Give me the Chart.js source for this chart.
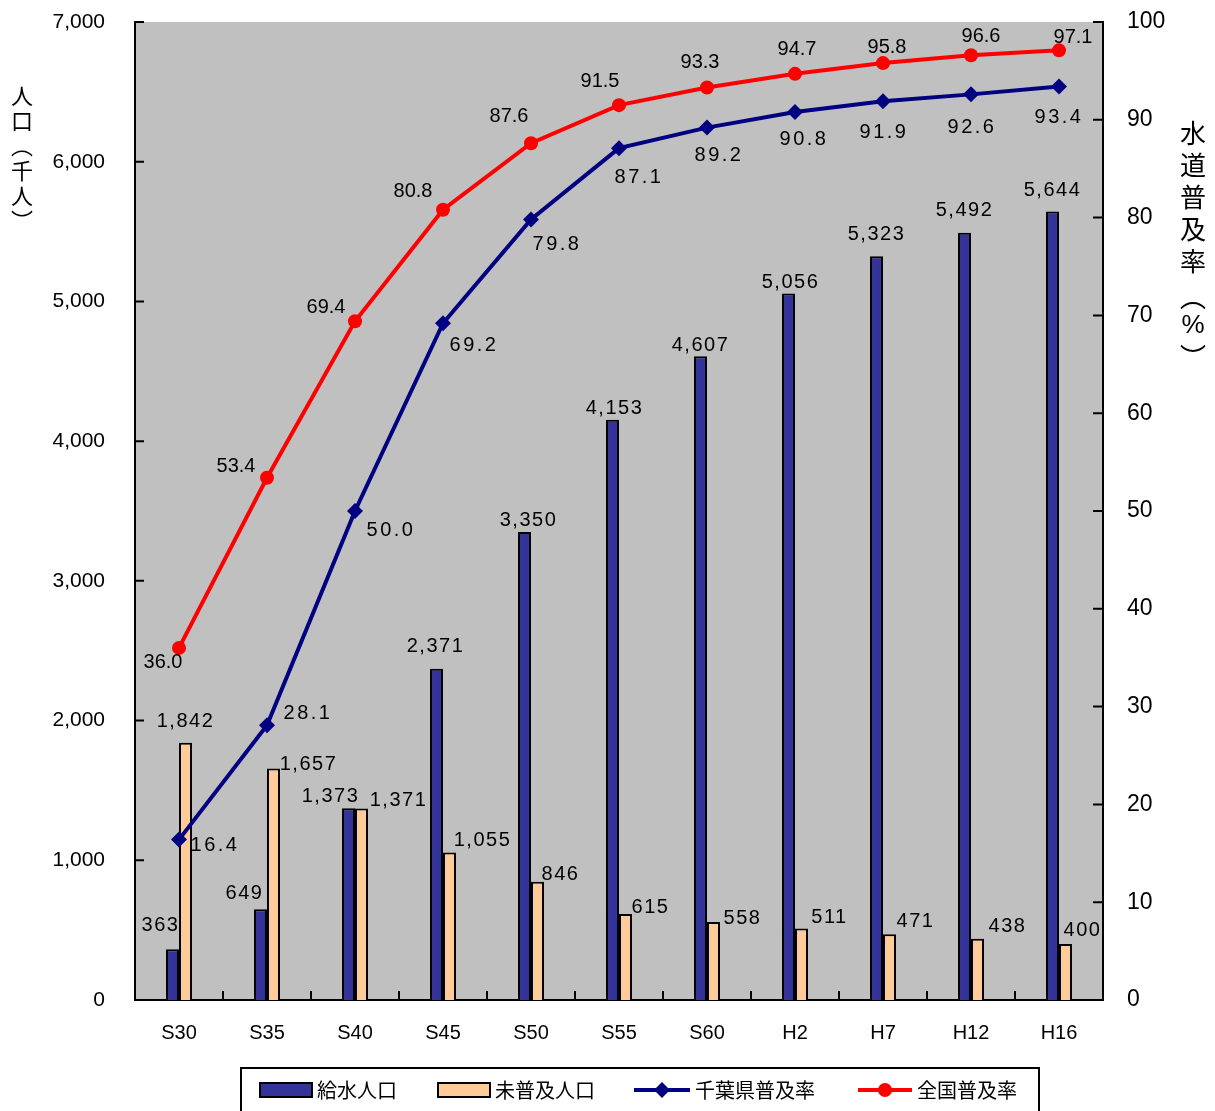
<!DOCTYPE html>
<html>
<head>
<meta charset="utf-8">
<script src="https://cdn.jsdelivr.net/npm/chart.js@4.4.1/dist/chart.umd.min.js"></script>
<style>
  body { margin: 0; background: #fff; }
  #wrap { width: 1215px; height: 1111px; }
</style>
</head>
<body>
<div id="wrap"><canvas id="chartWater" width="1215" height="1111"></canvas></div>
<script>
/* ═══════════════════════════════════════════
   DATA
═══════════════════════════════════════════ */
const years = ['S30', 'S35', 'S40', 'S45', 'S50', 'S55', 'S60', 'H2', 'H7', 'H12', 'H16'];
const kyusuiPop = [363, 649, 1373, 2371, 3350, 4153, 4607, 5056, 5323, 5492, 5644];    // 給水人口
const mifukyuPop = [1842, 1657, 1371, 1055, 846, 615, 558, 511, 471, 438, 400];         // 未普及人口
const chibaRate = [16.4, 28.1, 50.0, 69.2, 79.8, 87.1, 89.2, 90.8, 91.9, 92.6, 93.4];  // 千葉県普及率
const zenkokuRate = [36.0, 53.4, 69.4, 80.8, 87.6, 91.5, 93.3, 94.7, 95.8, 96.6, 97.1]; // 全国普及率
const popTicks = [0, 1000, 2000, 3000, 4000, 5000, 6000, 7000];
const rateTicks = [0, 10, 20, 30, 40, 50, 60, 70, 80, 90, 100];

/* label nudges (px from the mark), one per point */
const kyusuiOffsets = [[-12,-24],[-16,-16],[-18,-12],[-1,-22],[4,-11],[2,-11],[0,-11],[2,-11],[0,-22],[0,-22],[0,-21]];
const mifukyuOffsets = [[0,-21],[35,-4],[37,-8],[33,-12],[23,-7],[25,-7],[29,-4],[28,-11],[26,-13],[30,-12],[17,-14]];
const chibaOffsets = [[36,6],[41,-12],[36,19],[31,22],[26,25],[20,29],[12,28],[9,28],[1,31],[1,33],[0,31]];
const zenkokuOffsets = [[-16,15],[-31,-11],[-29,-14],[-30,-18],[-22,-27],[-19,-24],[-7,-25],[2,-24],[4,-16],[10,-19],[14,-13]];

const NAVY_BAR = '#333399';
const PEACH = '#FFCC99';
const NAVY = '#000080';
const RED = '#FF0000';
const SANS = '"Liberation Sans", Arial, sans-serif';
const CJK = '"Noto Sans CJK JP", "Noto Sans CJK SC", sans-serif';

/* ═══════════════════════════════════════════
   PLUGINS
═══════════════════════════════════════════ */
const plotBackground = {
    id: 'plotBackground',
    beforeDraw(chart) {
        const { ctx, chartArea: a } = chart;
        ctx.save();
        ctx.fillStyle = '#fff';
        ctx.fillRect(0, 0, chart.width, chart.height);
        ctx.fillStyle = '#C0C0C0';
        ctx.fillRect(a.left, a.top, a.right - a.left, a.bottom - a.top);
        ctx.restore();
    }
};

// inward tick marks like the original spreadsheet chart
const innerTicks = {
    id: 'innerTicks',
    afterDraw(chart) {
        const { ctx, chartArea: a, scales } = chart;
        ctx.save();
        ctx.strokeStyle = '#000';
        ctx.lineWidth = 2;
        ctx.beginPath();
        popTicks.forEach(v => {
            const y = scales.y.getPixelForValue(v);
            ctx.moveTo(a.left, y); ctx.lineTo(a.left + 9, y);
        });
        rateTicks.forEach(v => {
            const y = scales.y1.getPixelForValue(v);
            ctx.moveTo(a.right - 10, y); ctx.lineTo(a.right, y);
        });
        for (let i = 0; i < years.length - 1; i++) {
            const x = (scales.x.getPixelForValue(i) + scales.x.getPixelForValue(i + 1)) / 2;
            ctx.moveTo(x, a.bottom); ctx.lineTo(x, a.bottom - 9);
        }
        ctx.stroke();
        ctx.restore();
    }
};

const valueLabels = {
    id: 'valueLabels',
    afterDatasetsDraw(chart) {
        const { ctx } = chart;
        const specs = [
            { idx: 0, offs: kyusuiOffsets, spacing: '1.5px', fmt: v => v.toLocaleString('en-US') },
            { idx: 1, offs: mifukyuOffsets, spacing: '1.5px', fmt: v => v.toLocaleString('en-US') },
            { idx: 2, offs: chibaOffsets, spacing: '2.5px', fmt: v => v.toFixed(1) },
            { idx: 3, offs: zenkokuOffsets, spacing: '0px', fmt: v => v.toFixed(1) }
        ];
        ctx.save();
        ctx.fillStyle = '#000';
        ctx.textAlign = 'center';
        ctx.textBaseline = 'middle';
        ctx.font = '20px ' + SANS;
        specs.forEach(s => {
            const meta = chart.getDatasetMeta(s.idx);
            const values = chart.data.datasets[s.idx].data;
            ctx.letterSpacing = s.spacing;
            meta.data.forEach((el, i) => {
                ctx.fillText(s.fmt(values[i]), el.x + s.offs[i][0], el.y + s.offs[i][1]);
            });
        });
        ctx.restore();
    }
};

function drawVertical(ctx, chars, x, y0, step) {
    chars.forEach((c, i) => ctx.fillText(c, x, y0 + i * step));
}

const axisTitles = {
    id: 'axisTitles',
    afterDraw(chart) {
        const { ctx } = chart;
        ctx.save();
        ctx.fillStyle = '#000';
        ctx.textAlign = 'center';
        ctx.textBaseline = 'middle';
        ctx.font = '22px ' + CJK;
        drawVertical(ctx, ['人', '口', '︵', '千', '人', '︶'], 22, 96, 25);
        ctx.font = '26px ' + CJK;
        drawVertical(ctx, ['水', '道', '普', '及', '率'], 1193, 133, 32);
        drawVertical(ctx, ['︵'], 1193, 297, 0);
        ctx.font = '26px ' + SANS;
        drawVertical(ctx, ['%'], 1193, 326, 0);
        ctx.font = '26px ' + CJK;
        drawVertical(ctx, ['︶'], 1193, 357, 0);
        ctx.restore();
    }
};

const boxLegend = {
    id: 'boxLegend',
    afterDraw(chart) {
        const { ctx } = chart;
        const cy = 1090;
        ctx.save();
        ctx.strokeStyle = '#000';
        ctx.lineWidth = 2;
        ctx.strokeRect(241, 1068, 798, 60);

        // bar swatches
        ctx.fillStyle = NAVY_BAR;
        ctx.fillRect(260, cy - 7, 52, 14);
        ctx.strokeRect(260, cy - 7, 52, 14);
        ctx.fillStyle = PEACH;
        ctx.fillRect(438, cy - 7, 52, 14);
        ctx.strokeRect(438, cy - 7, 52, 14);

        // line swatches
        ctx.lineWidth = 4;
        ctx.strokeStyle = NAVY;
        ctx.beginPath(); ctx.moveTo(634, cy); ctx.lineTo(690, cy); ctx.stroke();
        ctx.fillStyle = NAVY;
        ctx.beginPath();
        ctx.moveTo(662, cy - 8); ctx.lineTo(670, cy); ctx.lineTo(662, cy + 8); ctx.lineTo(654, cy);
        ctx.closePath(); ctx.fill();
        ctx.strokeStyle = RED;
        ctx.beginPath(); ctx.moveTo(858, cy); ctx.lineTo(912, cy); ctx.stroke();
        ctx.fillStyle = RED;
        ctx.beginPath(); ctx.arc(885, cy, 7, 0, Math.PI * 2); ctx.fill();

        ctx.fillStyle = '#000';
        ctx.font = '20px ' + CJK;
        ctx.textBaseline = 'middle';
        ctx.textAlign = 'left';
        ctx.fillText('給水人口', 317, cy);
        ctx.fillText('未普及人口', 495, cy);
        ctx.fillText('千葉県普及率', 695, cy);
        ctx.fillText('全国普及率', 917, cy);
        ctx.restore();
    }
};

// fixed axis sizes so the plot area sits where the original one does
function fitY(width) {
    return s => { s.width = width; s.paddingTop = 0; s.paddingBottom = 0; };
}

/* ═══════════════════════════════════════════
   CHART
═══════════════════════════════════════════ */
function initWaterChart() {
    const ctx = document.getElementById('chartWater');
    if (!ctx || !window.Chart) return;

    new Chart(ctx, {
        type: 'bar',
        data: {
            labels: years,
            datasets: [
                {
                    label: '給水人口',
                    data: kyusuiPop,
                    yAxisID: 'y',
                    backgroundColor: NAVY_BAR,
                    borderColor: '#000',
                    borderWidth: 2,
                    barPercentage: 1,
                    categoryPercentage: 0.295,
                    order: 2
                },
                {
                    label: '未普及人口',
                    data: mifukyuPop,
                    yAxisID: 'y',
                    backgroundColor: PEACH,
                    borderColor: '#000',
                    borderWidth: 2,
                    barPercentage: 1,
                    categoryPercentage: 0.295,
                    order: 2
                },
                {
                    type: 'line',
                    label: '千葉県普及率',
                    data: chibaRate,
                    yAxisID: 'y1',
                    borderColor: NAVY,
                    backgroundColor: NAVY,
                    borderWidth: 4,
                    pointStyle: 'rectRot',
                    pointRadius: 8,
                    pointBorderWidth: 0,
                    tension: 0,
                    order: 1
                },
                {
                    type: 'line',
                    label: '全国普及率',
                    data: zenkokuRate,
                    yAxisID: 'y1',
                    borderColor: RED,
                    backgroundColor: RED,
                    borderWidth: 4,
                    pointStyle: 'circle',
                    pointRadius: 7,
                    pointBorderWidth: 0,
                    tension: 0,
                    order: 0
                }
            ]
        },
        options: {
            responsive: false,
            animation: false,
            devicePixelRatio: 1,
            layout: { padding: { top: 22, left: 0, right: 0, bottom: 0 } },
            plugins: {
                legend: { display: false },
                tooltip: { enabled: false }
            },
            scales: {
                x: {
                    grid: { display: false },
                    border: { display: true, color: '#000', width: 2 },
                    ticks: { color: '#000', font: { family: SANS, size: 20 }, padding: 13 },
                    afterFit: s => { s.height = 111; s.paddingLeft = 0; s.paddingRight = 0; }
                },
                y: {
                    position: 'left',
                    min: 0,
                    max: 7000,
                    grid: { display: false },
                    border: { display: true, color: '#000', width: 2 },
                    afterBuildTicks: s => { s.ticks = popTicks.map(v => ({ value: v })); },
                    ticks: {
                        color: '#000',
                        font: { family: SANS, size: 21 },
                        padding: 22,
                        callback: v => v.toLocaleString('en-US')
                    },
                    afterFit: fitY(135)
                },
                y1: {
                    position: 'right',
                    min: 0,
                    max: 100,
                    grid: { display: false },
                    border: { display: true, color: '#000', width: 2 },
                    afterBuildTicks: s => { s.ticks = rateTicks.map(v => ({ value: v })); },
                    ticks: { color: '#000', font: { family: SANS, size: 23 }, padding: 16 },
                    afterFit: fitY(112)
                }
            }
        },
        plugins: [plotBackground, innerTicks, valueLabels, axisTitles, boxLegend]
    });
}

initWaterChart();
</script>
</body>
</html>
